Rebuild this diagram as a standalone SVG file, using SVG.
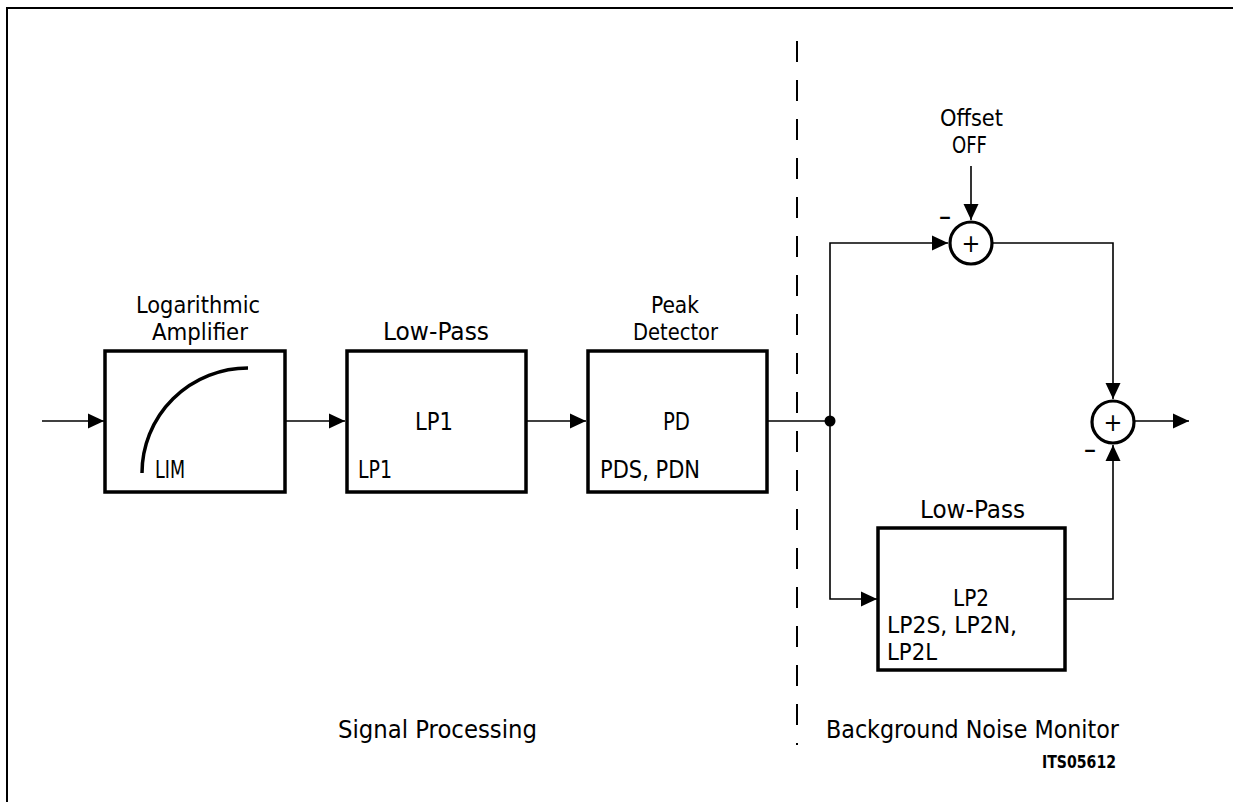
<svg xmlns="http://www.w3.org/2000/svg" width="1233" height="802" viewBox="0 0 1233 802">
<style>
  .box { fill: #fff; stroke: #000; stroke-width: 3.5; }
  .sum { fill: #fff; stroke: #000; stroke-width: 3.2; }
  .wire { fill: none; stroke: #000; stroke-width: 1.6; }
  .t { font-family: "DejaVu Sans", "Liberation Sans", sans-serif; font-stretch: condensed; font-size: 25px; fill: #000; }
  .t2 { font-family: "DejaVu Sans", "Liberation Sans", sans-serif; font-stretch: condensed; font-size: 23px; fill: #000; }
  .m { font-family: "DejaVu Sans", "Liberation Sans", sans-serif; font-size: 30px; fill: #000; }
  .id { font-family: "DejaVu Sans", "Liberation Sans", sans-serif; font-stretch: condensed; font-size: 18px; font-weight: bold; fill: #000; }
</style>
<defs>
  <marker id="arr" markerUnits="userSpaceOnUse" markerWidth="17" markerHeight="17" viewBox="0 0 17 17" refX="16" refY="8.5" orient="auto">
    <path d="M0,1 L16,8.5 L0,16 Z" fill="#000"/>
  </marker>
</defs>
<rect width="1233" height="802" fill="#fff"/>
<g id="frame">
  <path d="M7,802 L7,8 L1233,8" fill="none" stroke="#000" stroke-width="2"/>
</g>
<g id="divider">
  <line x1="797" y1="41" x2="797" y2="745" stroke="#000" stroke-width="2" stroke-dasharray="21 18"/>
</g>
<g id="connectors">
  <line class="wire" x1="42" y1="421" x2="104" y2="421" marker-end="url(#arr)"/>
  <line class="wire" x1="286" y1="421" x2="345" y2="421" marker-end="url(#arr)"/>
  <line class="wire" x1="527" y1="421" x2="586" y2="421" marker-end="url(#arr)"/>
  <line class="wire" x1="768" y1="421" x2="830" y2="421"/>
  <path class="wire" d="M830,421 L830,243 L948,243" marker-end="url(#arr)"/>
  <line class="wire" x1="971" y1="166" x2="971" y2="220" marker-end="url(#arr)"/>
  <path class="wire" d="M993,243 L1113,243 L1113,399" marker-end="url(#arr)"/>
  <path class="wire" d="M830,421 L830,599 L877,599" marker-end="url(#arr)"/>
  <path class="wire" d="M1066,599 L1113,599 L1113,445" marker-end="url(#arr)"/>
  <line class="wire" x1="1135" y1="421" x2="1189" y2="421" marker-end="url(#arr)"/>
  <circle cx="830" cy="421" r="5.5" fill="#000"/>
</g>
<g id="log-amp">
  <rect class="box" x="105" y="351" width="180" height="141"/>
  <path d="M142,473 A106,105 0 0 1 248,368" fill="none" stroke="#000" stroke-width="3.5"/>
  <text class="t2" x="136" y="313" textLength="124" lengthAdjust="spacingAndGlyphs">Logarithmic</text>
  <text class="t2" x="152" y="340" textLength="96" lengthAdjust="spacingAndGlyphs">Amplifier</text>
  <text class="t" x="155" y="478" textLength="30" lengthAdjust="spacingAndGlyphs">LIM</text>
</g>
<g id="low-pass-1">
  <rect class="box" x="347" y="351" width="179" height="141"/>
  <text class="t" x="383" y="340" textLength="106" lengthAdjust="spacingAndGlyphs">Low-Pass</text>
  <text class="t" x="415" y="430" textLength="38" lengthAdjust="spacingAndGlyphs">LP1</text>
  <text class="t" x="358" y="478" textLength="34" lengthAdjust="spacingAndGlyphs">LP1</text>
</g>
<g id="peak-detector">
  <rect class="box" x="588" y="351" width="179" height="141"/>
  <text class="t2" x="651" y="313" textLength="48" lengthAdjust="spacingAndGlyphs">Peak</text>
  <text class="t2" x="633" y="340" textLength="85" lengthAdjust="spacingAndGlyphs">Detector</text>
  <text class="t" x="663" y="430" textLength="27" lengthAdjust="spacingAndGlyphs">PD</text>
  <text class="t" x="600" y="478" textLength="100" lengthAdjust="spacingAndGlyphs">PDS, PDN</text>
</g>
<g id="offset-sum">
  <circle class="sum" cx="971" cy="243" r="21"/>
  <text class="t" x="971" y="252" text-anchor="middle">+</text>
  <text class="m" x="939" y="226" textLength="12" lengthAdjust="spacingAndGlyphs">–</text>
  <text class="t2" x="940" y="126" textLength="63" lengthAdjust="spacingAndGlyphs">Offset</text>
  <text class="t2" x="952" y="153" textLength="35" lengthAdjust="spacingAndGlyphs">OFF</text>
</g>
<g id="output-sum">
  <circle class="sum" cx="1113" cy="422" r="21"/>
  <text class="t" x="1113" y="431" text-anchor="middle">+</text>
  <text class="m" x="1084" y="459" textLength="12" lengthAdjust="spacingAndGlyphs">–</text>
</g>
<g id="low-pass-2">
  <rect class="box" x="878" y="528" width="187" height="142"/>
  <text class="t" x="920" y="518" textLength="105" lengthAdjust="spacingAndGlyphs">Low-Pass</text>
  <text class="t2" x="953" y="606" textLength="36" lengthAdjust="spacingAndGlyphs">LP2</text>
  <text class="t2" x="887" y="633" textLength="130" lengthAdjust="spacingAndGlyphs">LP2S, LP2N,</text>
  <text class="t2" x="887" y="660" textLength="50" lengthAdjust="spacingAndGlyphs">LP2L</text>
</g>
<g id="labels">
  <text class="t" x="338" y="738" textLength="199" lengthAdjust="spacingAndGlyphs">Signal Processing</text>
  <text class="t" x="826" y="738" textLength="293" lengthAdjust="spacingAndGlyphs">Background Noise Monitor</text>
  <text class="id" x="1042" y="768" textLength="74" lengthAdjust="spacingAndGlyphs">ITS05612</text>
</g>
</svg>
